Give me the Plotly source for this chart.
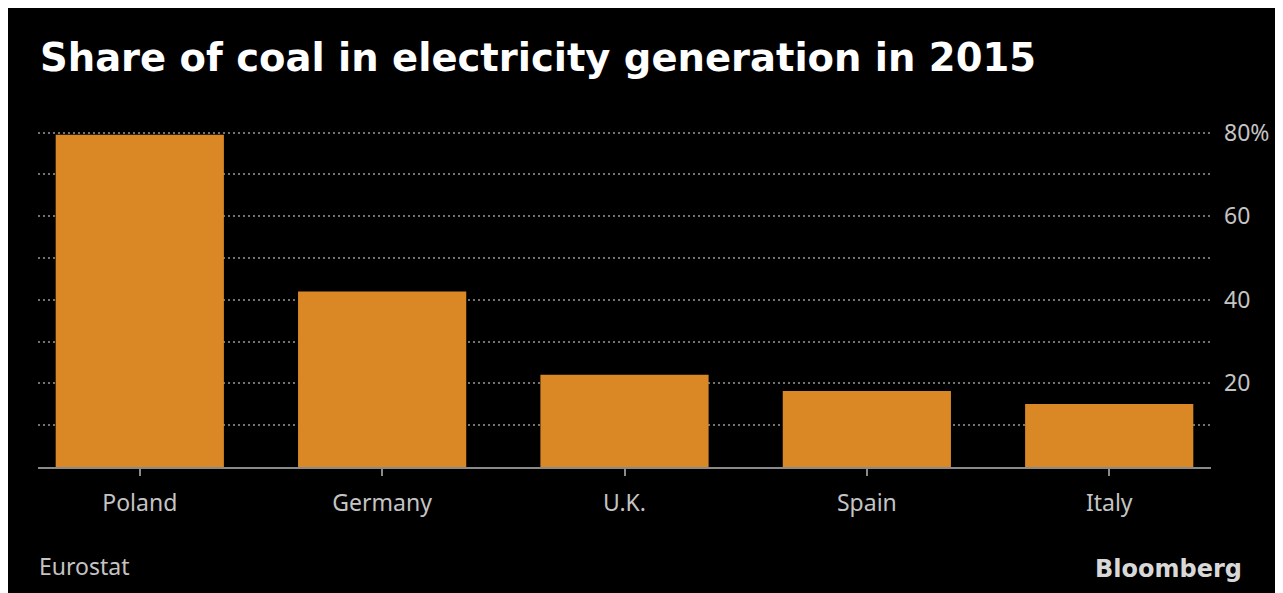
import plotly.graph_objects as go

countries = ["Poland", "Germany", "U.K.", "Spain", "Italy"]
coal_share = [79.5, 42.0, 22.1, 18.2, 15.1]
y_tickvals = [20, 40, 60, 80]
y_ticktext = ["20", "40", "60", "80%"]

W, H = 1283, 593
OFF = 8  # page body margin
UNIT = 334 / 80
YMAX = 80.4
L = 38 - OFF
R = W - (1211 - OFF)
T = (133 - OFF) - (YMAX - 80) * UNIT
B = H - (467 - OFF)
PW, PH = W - L - R, H - T - B

def px(x):
    return (x - OFF - L) / PW

def py(y):
    return (H - B - (y - OFF)) / PH

grid = dict(gridcolor="#737373", gridwidth=1.6, griddash="2px,3px")

fig = go.Figure(go.Bar(
    x=countries, y=coal_share,
    marker=dict(color="#DA8825", line=dict(width=0)),
    width=0.694,
))

fig.update_layout(
    width=W, height=H,
    margin=dict(l=L, r=R, t=T, b=B),
    paper_bgcolor="#000000", plot_bgcolor="#000000",
    showlegend=False,
    xaxis=dict(
        range=[-0.42, 4.42],
        showgrid=False, zeroline=False,
        showline=True, linecolor="#8a8a8a", linewidth=2,
        ticks="outside", ticklen=7, tickwidth=1.5, tickcolor="#8a8a8a",
        tickfont=dict(family="Noto Sans", size=23, color="#c4c4c4"),
        ticklabelstandoff=7,
    ),
    yaxis=dict(
        range=[0, YMAX], side="right",
        tickvals=y_tickvals, ticktext=y_ticktext,
        showgrid=True, **grid,
        zeroline=False, showline=False, ticks="",
        tickfont=dict(family="Noto Sans", size=23, color="#c4c4c4"),
        ticklabelstandoff=12,
        minor=dict(dtick=10, showgrid=True, ticks="", **grid),
    ),
    annotations=[
        dict(text="<b>Share of coal in electricity generation in 2015</b>", x=px(38), y=py(58),
             xref="paper", yref="paper", xanchor="left", yanchor="middle", showarrow=False,
             font=dict(family="DejaVu Sans", size=38.5, color="#ffffff")),
        dict(text="Eurostat", x=px(37), y=py(566),
             xref="paper", yref="paper", xanchor="left", yanchor="middle", showarrow=False,
             font=dict(family="Noto Sans", size=23, color="#c4c4c4")),
        dict(text="<b>Bloomberg</b>", x=px(1244), y=py(569),
             xref="paper", yref="paper", xanchor="right", yanchor="middle", showarrow=False,
             font=dict(family="DejaVu Sans", size=24, color="#d8d8d8")),
    ],
)

fig.write_html("out.html")
